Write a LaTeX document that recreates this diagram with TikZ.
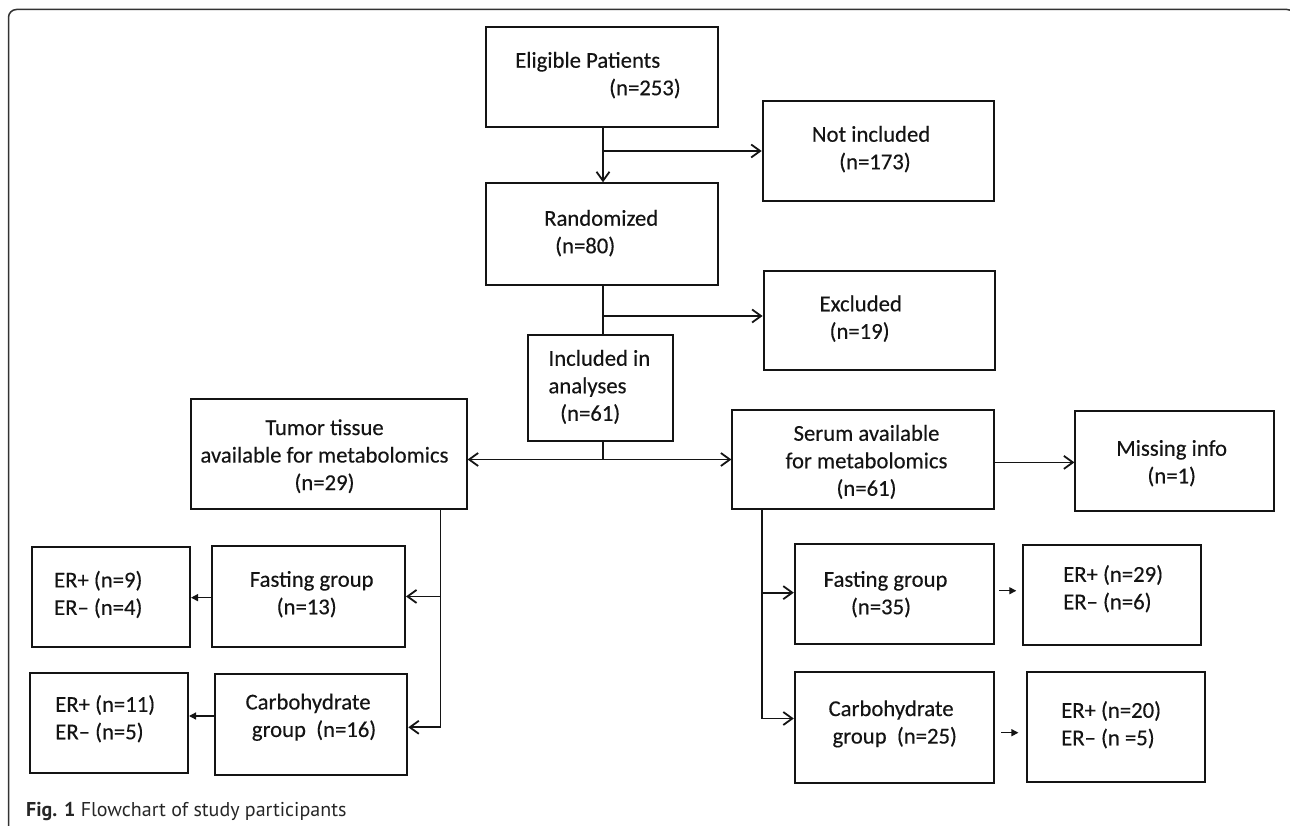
\documentclass[tikz,border=0pt]{standalone}
\usepackage{fontspec}
\newfontfamily\boxfont{Carlito}[FakeBold=0.3]
\newfontfamily\capfont{PT Sans}
\usetikzlibrary{arrows.meta}
\definecolor{ink}{HTML}{141414}
\tikzset{
  box/.style={draw=ink, line width=2pt, rectangle, inner sep=0pt},
  txt/.style={inner sep=0pt, align=left, anchor=north west, text=ink,
              font=\boxfont\fontsize{22.7}{27.5}\selectfont},
  ctxt/.style={txt, align=center, anchor=north},
  arr/.style={draw=ink, line width=1.8pt, -{Straight Barb[length=9pt,width=13pt]}},
  arrboth/.style={draw=ink, line width=1.8pt, {Straight Barb[length=9pt,width=13pt]}-{Straight Barb[length=9pt,width=13pt]}},
  plain/.style={draw=ink, line width=1.8pt},
  sarr/.style={draw=ink, line width=1.3pt, -{Triangle[length=7pt,width=7pt]}},
  frame/.style={draw=black!80, line width=1.5pt, rounded corners=8pt},
}
\newcommand{\mybox}[5]{\node[box, minimum width={(#4-#2)*1pt}, minimum height={(#5-#3)*1pt}] (#1) at ({(#2+#4)/2},{(#3+#5)/2}) {};}
\begin{document}
\begin{tikzpicture}[x=1pt,y=-1pt]
\useasboundingbox (0,0) rectangle (1290,826);
\draw[frame] (8.5,850) -- (8.5,9.5) -- (1295,9.5) -- (1295,850);

% boxes
\mybox{elig}{486}{27.4}{717.7}{126.8}
\mybox{notinc}{762.7}{101}{994}{201}
\mybox{rand}{486}{183.3}{717.7}{284.7}
\mybox{excl}{763.6}{271.2}{995.3}{370.4}
\mybox{incl}{527.6}{335}{672.6}{441.3}
\mybox{tumor}{190.8}{399.3}{466.6}{509.3}
\mybox{serum}{732.4}{409.5}{994.2}{509.3}
\mybox{missing}{1075.4}{410.5}{1273.8}{510.6}
\mybox{fastL}{212.3}{545.9}{405}{647}
\mybox{erLa}{32}{546.8}{190}{647}
\mybox{carbL}{214.8}{674}{407.3}{775}
\mybox{erLb}{29.8}{672.6}{188}{772.8}
\mybox{fastR}{794.8}{543.5}{994}{643.6}
\mybox{erRa}{1022.7}{544.7}{1200.5}{645}
\mybox{carbR}{794.8}{672.4}{994}{782.6}
\mybox{erRb}{1026.7}{672.4}{1205}{782.3}

% texts
\node[txt] (elig-t) at (515,48.3) {Eligible Patients\strut\\\hspace*{94pt}(n=253)\strut};
\node[txt] (notinc-t) at (811.7,122.3) {Not included\strut\\\hspace*{27.3pt}(n=173)\strut};
\node[txt] (rand-t) at (544,206.3) {Randomized\strut\\\hspace*{11pt}(n=80)\strut};
\node[txt] (excl-t) at (819.4,291.8) {Excluded\strut\\\hspace*{10pt}(n=19)\strut};
\node[txt] (incl-t) at (548.3,346.3) {Included in\strut\\analyses\strut\\\hspace*{11.7pt}(n=61)\strut};
\node[ctxt] (tumor-t) at (324.5,415.6) {Tumor tissue\strut\\available for metabolomics\strut\\(n=29)\strut};
\node[ctxt] (serum-t) at (866.5,421.3) {Serum available\strut\\for metabolomics\strut\\(n=61)\strut};
\node[ctxt] (missing-t) at (1171.7,436.3) {Missing info\strut\\(n=1)\strut};
\node[txt] (fastL-t) at (249.6,567.3) {Fasting group\strut\\\hspace*{26.9pt}(n=13)\strut};
\node[txt] (erLa-t) at (53.9,568) {ER+ (n=9)\strut\\ER– (n=4)\strut};
\node[txt] (carbL-t) at (245.4,690) {Carbohydrate\strut\\\hspace*{6.3pt}group\ \ (n=16)\strut};
\node[txt] (erLb-t) at (55.1,692.3) {ER+ (n=11)\strut\\ER– (n=5)\strut};
\node[txt] (fastR-t) at (823.5,567.3) {Fasting group\strut\\\hspace*{27.3pt}(n=35)\strut};
\node[txt] (erRa-t) at (1063,562.3) {ER+ (n=29)\strut\\ER– (n=6)\strut};
\node[txt] (carbR-t) at (828.4,696.6) {Carbohydrate\strut\\\hspace*{4pt}group\ \ (n=25)\strut};
\node[txt] (erRb-t) at (1061,698.3) {ER+ (n=20)\strut\\ER– (n =5)\strut};

% caption
\node[anchor=base west, inner sep=0pt, text=black!85, font=\capfont\fontsize{20}{24}\selectfont] (cap) at (26,816.5) {\textbf{Fig. 1} Flowchart of study participants};

% connectors
\coordinate (c) at (603,0);
\coordinate (b1) at (603,151);
\draw[arr] (elig.south -| c) -- (rand.north -| c);
\draw[arr] (b1) -- (b1 -| notinc.west);
\draw[plain] (rand.south -| c) -- (incl.north -| c);
\coordinate (b2) at (603,316);
\draw[arr] (b2) -- (b2 -| excl.west);
\coordinate (b3) at (603,459.5);
\draw[plain] (incl.south -| c) -- (b3);
\draw[arrboth] (tumor.east |- b3) -- (serum.west |- b3);
\draw[arr] ([yshift=-3pt]serum.east) -- ([yshift=-3pt]serum.east -| missing.west);

\coordinate (tl) at (440.4,509.3);
\draw[arr] (tl) |- (fastL.east);
\draw[arr] (tl) |- ([yshift=-2.8pt]carbL.east);
\coordinate (sr) at (762,509.3);
\draw[arr] (sr) |- ([yshift=0.9pt]fastR.west);
\draw[arr] (sr) |- ([yshift=9pt]carbR.west);

\draw[sarr] ([yshift=-1.2pt]fastL.west) -- ([yshift=-1.2pt]fastL.west -| erLa.east);
\draw[sarr] ([yshift=8.5pt]carbL.west) -- ([yshift=8.5pt]carbL.west -| erLb.east);
\draw[sarr, shorten >=5.4pt] ([xshift=4pt,yshift=2.8pt]fastR.east) -- ([yshift=2.8pt]fastR.east -| erRa.west);
\draw[sarr, shorten >=7.3pt] ([xshift=6pt,yshift=-5.2pt]carbR.east) -- ([yshift=-5.2pt]carbR.east -| erRb.west);
\end{tikzpicture}
\end{document}
